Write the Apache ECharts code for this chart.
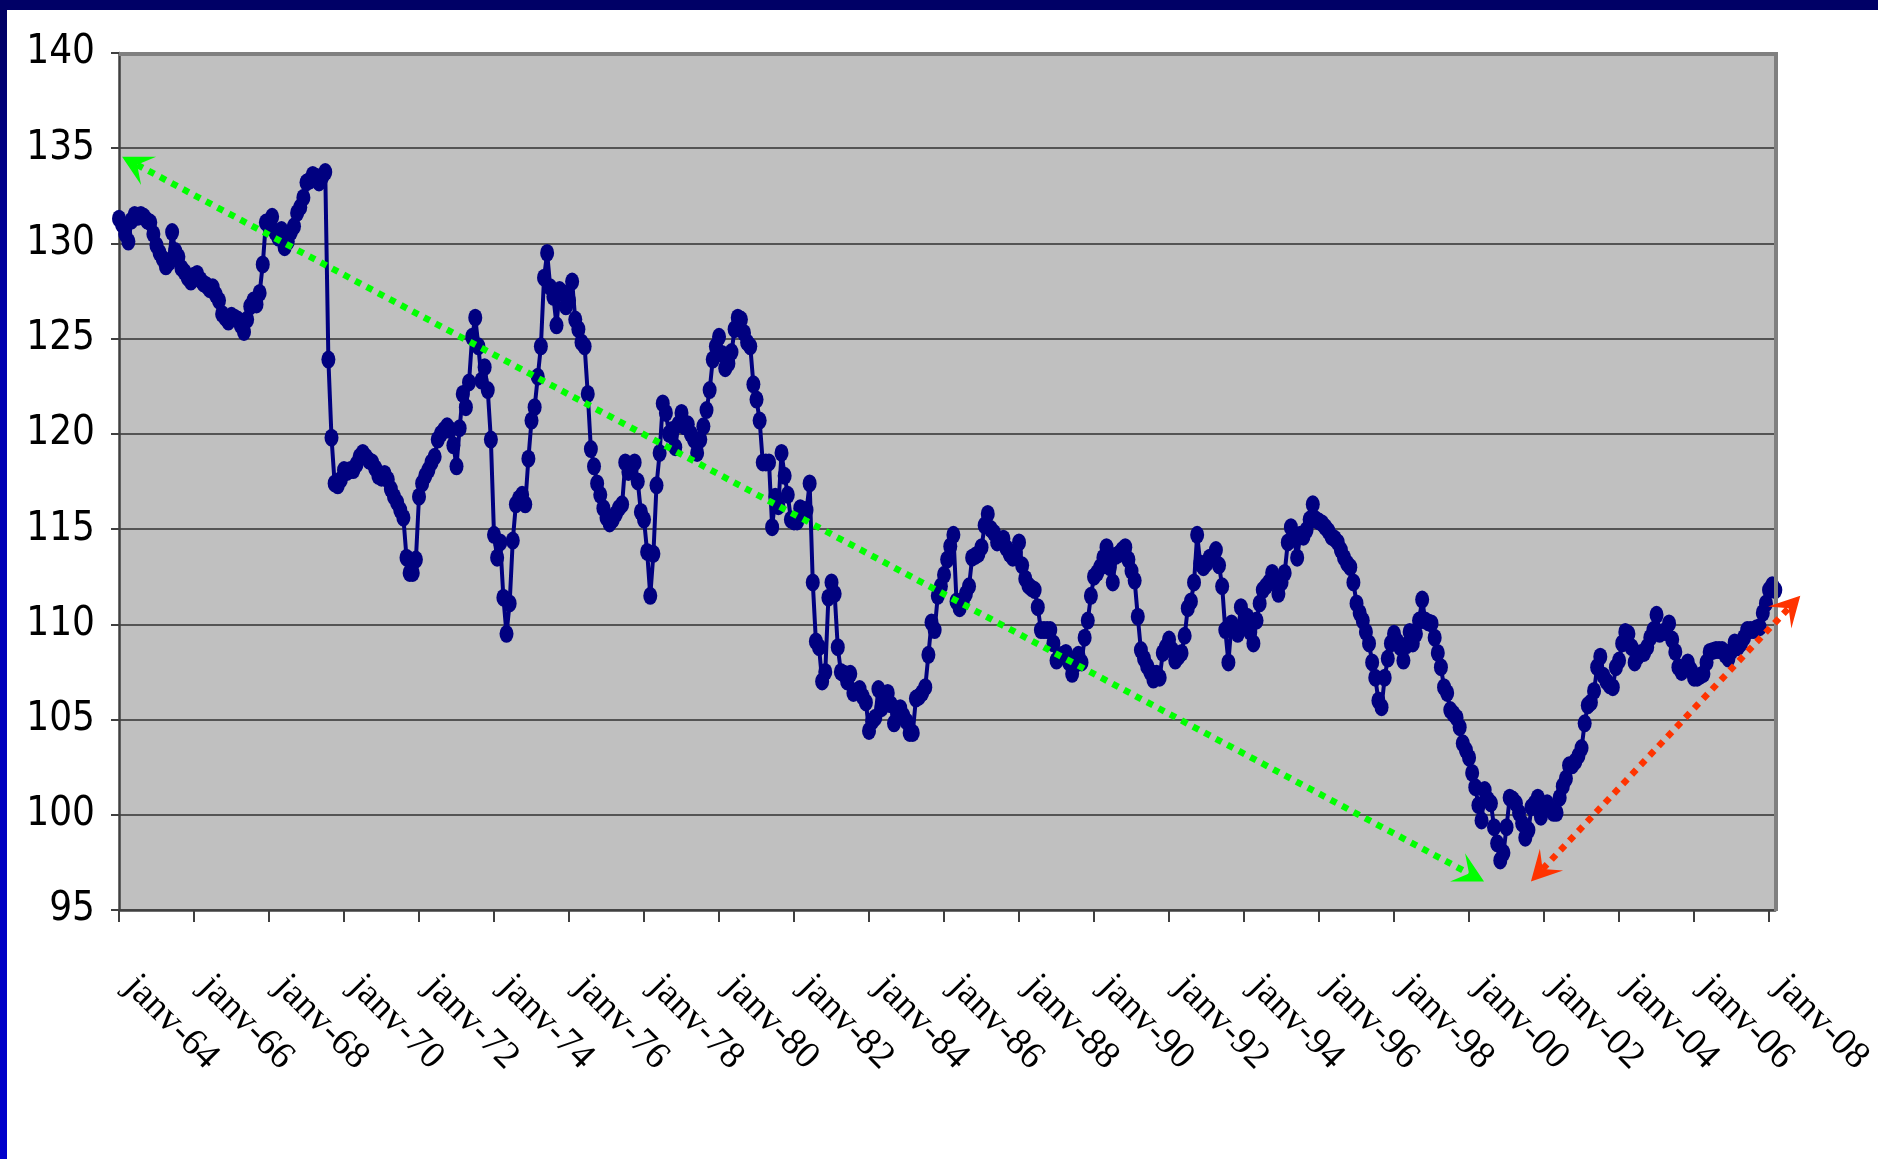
<!DOCTYPE html>
<html>
<head>
<meta charset="utf-8">
<script src="https://cdn.jsdelivr.net/npm/echarts@6/dist/echarts.min.js"></script>
<style>
html,body{margin:0;padding:0;background:#ffffff;overflow:hidden}
#c{width:1878px;height:1159px}
</style>
</head>
<body>
<div id="c"></div>
<script>
// ---- data (monthly, Jan 1964 .. Mar 2008) ----
const startYear = 1964;
const monthNames = ['janv','févr','mars','avr','mai','juin','juil','août','sept','oct','nov','déc'];

const vals1960s = [
  131.3,131.0,130.5,130.1,131.2,131.5,131.4,131.5,131.4,131.2,131.1,130.5,
  129.9,129.5,129.2,128.8,129.0,130.6,129.6,129.3,128.7,128.5,128.2,128.0,
  128.3,128.4,128.1,127.9,127.8,127.6,127.7,127.3,127.0,126.3,126.1,125.9,
  126.2,126.1,126.0,125.7,125.35,126.0,126.7,127.0,126.8,127.4,128.9,131.1,
  131.0,131.4,130.6,130.3,130.7,129.8,130.1,130.6,130.9,131.6,131.9,132.4,
  133.2,133.3,133.6,133.5,133.2,133.5,133.75,123.9,119.8,117.4,117.3,117.6
];
const vals1970s = [
  118.1,118.0,118.1,118.1,118.4,118.8,119.0,118.8,118.6,118.5,118.2,117.8,
  117.7,117.9,117.6,117.1,116.7,116.4,116.0,115.6,113.5,112.7,112.7,113.4,
  116.7,117.4,117.8,118.1,118.5,118.8,119.7,120.0,120.2,120.4,120.2,119.4,
  118.3,120.3,122.1,121.4,122.7,125.1,126.1,124.6,122.8,123.5,122.3,119.7,
  114.7,113.5,114.3,111.4,109.5,111.1,114.4,116.3,116.6,116.8,116.3,118.7,
  120.7,121.4,123.0,124.6,128.2,129.5,127.7,127.2,125.7,127.55,127.4,126.7,
  127.0,128.0,126.0,125.5,124.8,124.6,122.1,119.2,118.3,117.4,116.8,116.1,
  115.6,115.3,115.5,115.8,116.1,116.3,118.5,118.0,118.1,118.5,117.5,115.9,
  115.5,113.8,111.5,113.7,117.3,119.0,121.6,121.1,120.0,120.2,119.3,120.5,
  121.1,120.4,120.5,120.0,119.7,119.0,119.7,120.4,121.25,122.3,123.9,124.6
];
const vals1980s = [
  125.1,124.2,123.45,123.7,124.3,125.5,126.1,126.0,125.3,124.8,124.6,122.6,
  121.8,120.7,118.5,118.5,118.5,115.1,116.7,116.2,119.0,117.8,116.8,115.5,
  115.4,115.4,116.1,116.0,116.0,117.4,112.2,109.1,108.8,107.0,107.5,111.4,
  112.2,111.6,108.8,107.5,107.4,107.0,107.4,106.4,106.5,106.6,106.2,105.9,
  104.4,104.9,105.1,106.6,105.6,106.0,106.4,105.8,104.8,105.3,105.6,105.2,
  104.9,104.3,104.3,106.1,106.2,106.4,106.7,108.4,110.1,109.7,111.5,112.0,
  112.6,113.4,114.1,114.7,111.2,110.85,111.2,111.6,112.0,113.5,113.6,113.7,
  114.05,115.2,115.8,115.0,114.8,114.3,114.4,114.5,114.0,113.7,113.5,113.8,
  114.3,113.1,112.4,112.05,111.9,111.8,110.9,109.7,109.7,109.7,109.7,109.0,
  108.1,108.3,108.4,108.5,108.0,107.4,107.9,108.4,108.0,109.3,110.2,111.5
];
const vals1990s = [
  112.5,112.7,113.0,113.5,114.05,113.0,112.2,113.6,113.7,113.9,114.05,113.4,
  112.8,112.3,110.4,108.65,108.2,107.8,107.5,107.1,107.4,107.2,108.5,108.8,
  109.2,108.65,108.1,108.3,108.5,109.4,110.85,111.2,112.2,114.7,113.2,113.0,
  113.2,113.5,113.5,113.9,113.1,112.0,109.7,108.0,110.05,109.8,109.5,110.9,
  109.85,110.4,109.6,109.0,110.2,111.1,111.8,112.0,112.2,112.7,112.4,111.6,
  112.2,112.7,114.3,115.1,114.5,113.5,114.7,114.6,114.95,115.5,116.3,115.5,
  115.4,115.3,115.1,114.9,114.6,114.5,114.3,113.9,113.5,113.2,113.0,112.2,
  111.1,110.6,110.2,109.6,109.0,108.0,107.2,106.0,105.65,107.2,108.2,109.0,
  109.5,109.1,108.8,108.1,108.9,109.6,109.0,109.5,110.2,111.3,110.2,110.1,
  110.05,109.3,108.5,107.75,106.7,106.4,105.5,105.3,105.1,104.6,103.75,103.4
];
const vals2000s = [
  103.0,102.2,101.45,100.5,99.7,101.3,100.8,100.6,99.35,98.5,97.6,98.0,
  99.35,100.9,100.8,100.6,100.1,99.55,98.8,99.2,100.4,100.6,100.9,99.9,
  100.3,100.6,100.3,100.1,100.1,100.9,101.5,101.9,102.6,102.6,102.8,103.1,
  103.5,104.8,105.75,105.9,106.5,107.75,108.3,107.3,107.0,106.8,106.7,107.75,
  108.1,109.0,109.6,109.5,108.8,108.0,108.3,108.5,108.5,108.8,109.3,109.7,
  110.5,109.5,109.6,109.6,110.05,109.2,108.55,107.75,107.5,107.7,108.0,107.6,
  107.2,107.2,107.3,107.4,108.0,108.55,108.6,108.65,108.65,108.65,108.4,108.2,
  108.6,109.05,108.8,109.0,109.3,109.7,109.7,109.7,109.8,109.85,110.6,111.1,
  111.8,112.05,111.8
];

// y axis scale
const yMin = 95, yMax = 140, yStep = 5;

// annotation arrows: [monthIndex, value] of both tips
const arrowGreenTips = [[1, 134.55], [436.8, 96.5]];
const arrowRedTips = [[451.8, 96.5], [538, 111.5]];

// ---- build ----
const values = vals1960s.concat(vals1970s, vals1980s, vals1990s, vals2000s);
const categories = values.map((v, i) => {
  const y = startYear + Math.floor(i / 12);
  return monthNames[i % 12] + '-' + String(y % 100).padStart(2, '0');
});

const G = {left: 119, top: 53, width: 1658, height: 857};

const chart = echarts.init(document.getElementById('c'), null, {renderer: 'canvas', width: 1878, height: 1159});

chart.setOption({
  animation: false,
  backgroundColor: '#ffffff',
  grid: {left: G.left, top: G.top, width: G.width, height: G.height, show: true,
         backgroundColor: '#c0c0c0', borderWidth: 0},
  xAxis: {
    type: 'category', data: categories, boundaryGap: false,
    axisLine: {show: true, onZero: false, lineStyle: {color: '#404040', width: 2.5}},
    axisTick: {show: true, interval: 23, length: 12, lineStyle: {color: '#404040', width: 2}},
    axisLabel: {interval: 23, rotate: -45, margin: 60, padding: [0, 0, 0, 16],
                fontFamily: '"Liberation Serif","Times New Roman",serif',
                fontSize: 38, color: '#000000'},
    splitLine: {show: false}
  },
  yAxis: {
    type: 'value', min: yMin, max: yMax, interval: yStep,
    axisLine: {show: true, lineStyle: {color: '#404040', width: 2.5}},
    axisTick: {show: true, length: 8, lineStyle: {color: '#404040', width: 2}},
    axisLabel: {margin: 24, fontFamily: '"Liberation Sans Narrow","Arial Narrow","DejaVu Sans Condensed",sans-serif',
                fontSize: 40, color: '#000000'},
    splitLine: {show: true, lineStyle: {color: '#303030', width: 1.5}}
  },
  series: [{
    type: 'line', data: values, symbol: 'circle', symbolSize: [14, 18], showAllSymbol: true, clip: false,
    lineStyle: {color: '#000080', width: 4}, itemStyle: {color: '#000080', borderWidth: 0}, z: 3
  }]
});

// pixel mapping (linear extension of the category axis for annotation tips)
const lastIdx = values.length - 1;
const xA = chart.convertToPixel({xAxisIndex: 0}, 0);
const xB = chart.convertToPixel({xAxisIndex: 0}, lastIdx);
function toPx(p) {
  return [xA + (xB - xA) * p[0] / lastIdx, chart.convertToPixel({yAxisIndex: 0}, p[1])];
}

function arrowEls(tips, color) {
  const a = toPx(tips[0]), b = toPx(tips[1]);
  const dx = b[0] - a[0], dy = b[1] - a[1], len = Math.hypot(dx, dy);
  const ux = dx / len, uy = dy / len, nx = -uy, ny = ux;
  const L = 30, W = 16, N = 17;
  function head(tip, sx, sy) {
    return {type: 'polygon', z: 100, shape: {points: [
      [tip[0], tip[1]],
      [tip[0] - sx * L + nx * W, tip[1] - sy * L + ny * W],
      [tip[0] - sx * N, tip[1] - sy * N],
      [tip[0] - sx * L - nx * W, tip[1] - sy * L - ny * W]
    ]}, style: {fill: color}};
  }
  return [
    {type: 'line', z: 99, shape: {x1: a[0] + ux * N, y1: a[1] + uy * N, x2: b[0] - ux * N, y2: b[1] - uy * N},
     style: {stroke: color, lineWidth: 6.5, lineDash: [6.5, 6.5], lineCap: 'butt'}},
    head(a, -ux, -uy),
    head(b, ux, uy)
  ];
}

const gx1 = G.left, gx2 = G.left + G.width, gy1 = G.top, gy2 = G.top + G.height;
chart.setOption({
  graphic: [
    {type: 'rect', z: 90, shape: {x: 0, y: 0, width: 7, height: 1159},
     style: {fill: new echarts.graphic.LinearGradient(0, 0, 0, 1, [
       {offset: 0, color: '#000060'}, {offset: 0.3, color: '#0000b0'}, {offset: 1, color: '#0000cc'}])}},
    {type: 'rect', z: 91, shape: {x: 0, y: 0, width: 1878, height: 10}, style: {fill: '#000066'}},
    {type: 'rect', z: 95, shape: {x: gx1, y: gy1 - 1, width: gx2 - gx1, height: 4}, style: {fill: '#808080'}},
    {type: 'rect', z: 95, shape: {x: gx2 - 3, y: gy1 - 1, width: 4, height: gy2 - gy1 + 2}, style: {fill: '#808080'}}
  ].concat(arrowEls(arrowGreenTips, '#00ff00'), arrowEls(arrowRedTips, '#ff3300'))
});
</script>
</body>
</html>
